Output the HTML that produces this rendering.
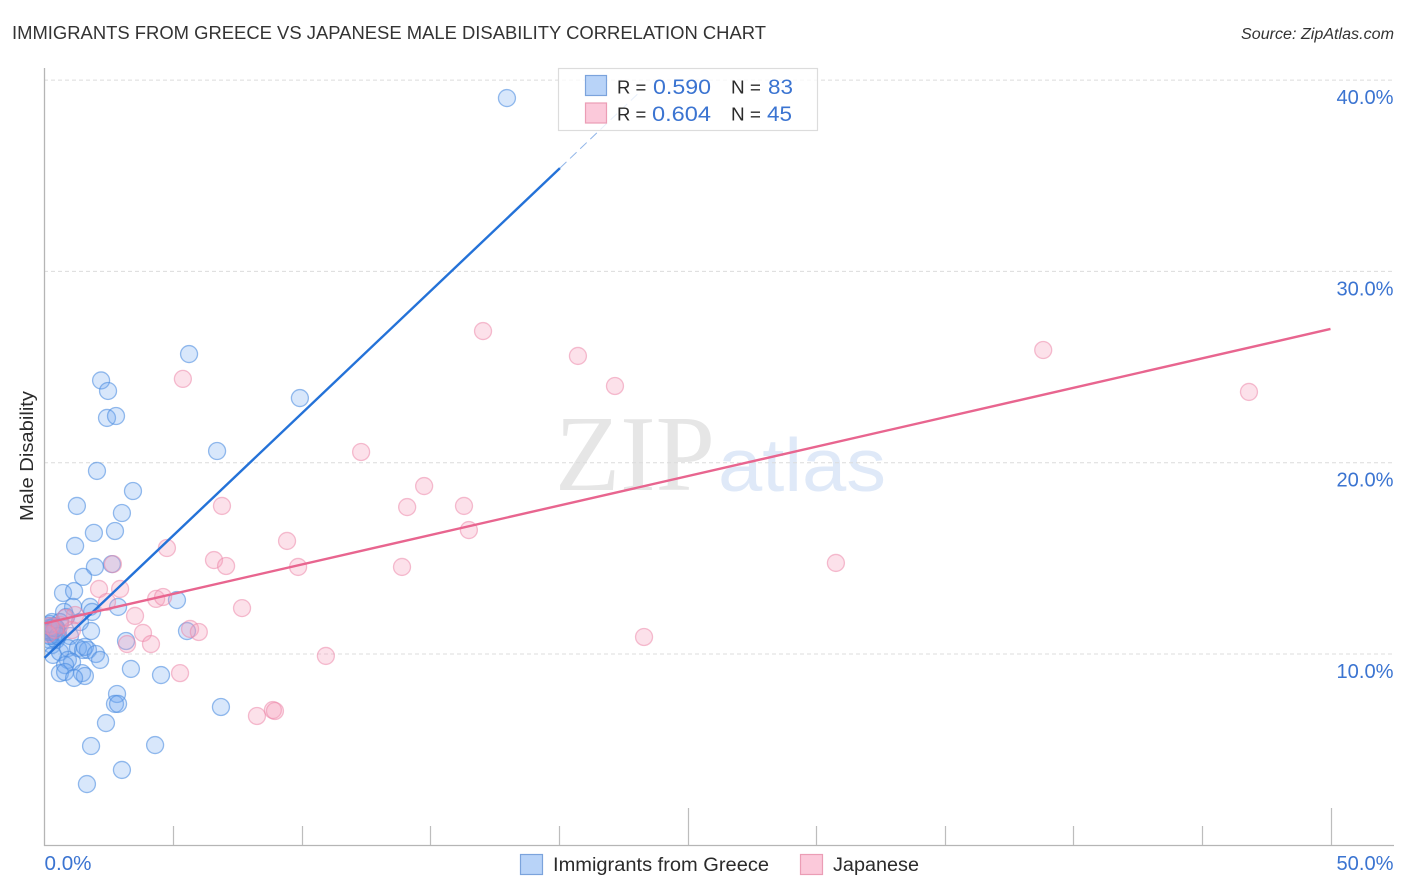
<!DOCTYPE html>
<html lang="en">
<head>
<meta charset="utf-8">
<title>Immigrants from Greece vs Japanese Male Disability Correlation Chart</title>
<style>
html,body{margin:0;padding:0;background:#fff;width:1406px;height:892px;overflow:hidden}
svg{display:block}
text{font-family:"Liberation Sans",sans-serif}
.dark{fill:#2b2b2b}
.blue{fill:#3b74d1}
</style>
</head>
<body>
<svg id="chart" xmlns="http://www.w3.org/2000/svg" width="1406" height="892" viewBox="0 0 1406 892">
  <defs>
    <clipPath id="plot-clip"><rect x="45" y="60" width="1349" height="785"/></clipPath>
  </defs>
  <rect x="0" y="0" width="1406" height="892" fill="#fff"/>
  <text x="12" y="39" font-size="18.5" textLength="754" lengthAdjust="spacingAndGlyphs" fill="#333">IMMIGRANTS FROM GREECE VS JAPANESE MALE DISABILITY CORRELATION CHART</text>
  <text x="1241" y="39" font-size="15.5" font-style="italic" textLength="153" lengthAdjust="spacingAndGlyphs" fill="#333">Source: ZipAtlas.com</text>
  <g>
    <text x="555" y="490" font-size="108" textLength="160" lengthAdjust="spacingAndGlyphs" fill="#e6e6e6" style="font-family:'Liberation Serif',serif">ZIP</text>
    <text x="718" y="491" font-size="75" textLength="168" lengthAdjust="spacingAndGlyphs" fill="#dfe9f8">atlas</text>
  </g>
  <g id="grid"></g>
  <g id="axes">
    <line x1="44.5" y1="68" x2="44.5" y2="846" stroke="#b5b5b5" stroke-width="1.3"/>
    <line x1="44" y1="845.5" x2="1394" y2="845.5" stroke="#b5b5b5" stroke-width="1.3"/>
  </g>
  <g id="xticks"></g>
  <g id="ylabels"></g>
  <g id="xlabels"></g>
  <text transform="translate(33,456) rotate(-90)" font-size="18" text-anchor="middle" textLength="130" lengthAdjust="spacingAndGlyphs" class="dark">Male Disability</text>
  <g id="points" clip-path="url(#plot-clip)"></g>
  <g id="trends"></g>

  <g>
    <rect x="558.5" y="68.5" width="259" height="62" fill="#fff" fill-opacity="0.78" stroke="#dcdcdc" stroke-width="1.2"/>
    <rect x="585.5" y="75.5" width="21" height="20" fill="#b8d3f8" stroke="#7ba3dc" stroke-width="1.2"/>
    <rect x="585.5" y="103" width="21" height="20" fill="#fbc9da" stroke="#eb9db5" stroke-width="1.2"/>
    <text x="617" y="93.5" font-size="18.5" class="dark">R =</text>
    <text x="653" y="94" font-size="21.5" textLength="58" lengthAdjust="spacingAndGlyphs" class="blue">0.590</text>
    <text x="731" y="93.5" font-size="18.5" textLength="30" lengthAdjust="spacingAndGlyphs" class="dark">N =</text>
    <text x="768" y="94" font-size="21.5" textLength="25" lengthAdjust="spacingAndGlyphs" class="blue">83</text>
    <text x="617" y="120.5" font-size="18.5" class="dark">R =</text>
    <text x="652" y="121" font-size="21.5" textLength="59" lengthAdjust="spacingAndGlyphs" class="blue">0.604</text>
    <text x="731" y="120.5" font-size="18.5" textLength="30" lengthAdjust="spacingAndGlyphs" class="dark">N =</text>
    <text x="767" y="121" font-size="21.5" textLength="25" lengthAdjust="spacingAndGlyphs" class="blue">45</text>
  </g>

  <g>
    <rect x="520.5" y="854.5" width="22" height="20" fill="#b8d3f8" stroke="#7ba3dc" stroke-width="1.2"/>
    <text x="553" y="871" font-size="19" textLength="216" lengthAdjust="spacingAndGlyphs" class="dark">Immigrants from Greece</text>
    <rect x="800.5" y="854.5" width="22" height="20" fill="#fbc9da" stroke="#eb9db5" stroke-width="1.2"/>
    <text x="833" y="871" font-size="19" textLength="86" lengthAdjust="spacingAndGlyphs" class="dark">Japanese</text>
  </g>
</svg>
<script>
const greeceX = [17.98,5.62,2.2,2.47,2.43,2.78,9.93,6.71,2.04,3.44,1.26,3.01,1.92,2.74,1.19,2.62,1.96,1.5,0.72,1.15,5.15,2.86,1.77,1.11,1.85,0.76,0.84,1.38,1.81,5.54,3.17,
  0.29,0.45,0.21,0.37,0.21,0.52,0.14,0.29,0.45,0.99,0.6,
  0.33,0.6,0.91,1.3,1.5,1.69,1.57,2.0,2.16,0.91,1.07,0.8,0.6,0.8,1.46,1.57,1.15,3.36,4.53,2.82,2.74,2.86,6.86,2.39,1.81,4.3,3.01,1.65,
  0.21,0.29,0.14,0.37,0.06,0.45,0.21,0.37,0.14,0.29,0.45,0.21,0.52];
const greeceY = [39.06,25.68,24.3,23.75,22.34,22.44,23.38,20.61,19.57,18.52,17.74,17.37,16.33,16.43,15.65,14.7,14.55,14.03,13.19,13.29,12.82,12.46,12.46,12.46,12.2,12.2,11.93,11.67,11.2,11.2,10.68,
  11.67,11.36,11.15,10.94,10.73,11.15,11.36,10.47,10.73,10.94,11.67,
  9.95,10.1,10.31,10.31,10.21,10.21,10.37,10.0,9.69,9.69,9.58,9.42,9.0,9.06,9.0,8.85,8.75,9.22,8.9,7.91,7.39,7.39,7.23,6.39,5.19,5.24,3.94,3.2,
  11.36,11.15,11.15,11.46,11.25,11.05,10.94,11.25,11.46,11.36,11.36,11.57,10.94];
const japaneseX = [17.05,20.74,22.18,38.83,46.83,5.38,12.31,14.76,14.1,16.31,16.5,6.9,9.43,4.76,6.59,7.06,9.86,13.9,30.77,2.66,2.12,2.94,4.34,4.61,2.43,7.68,3.52,5.66,6.0,3.83,3.21,4.14,23.31,10.94,5.27,8.26,8.88,8.96,
  0.21,0.41,0.6,0.14,1.19,0.8,1.07];
const japaneseY = [26.88,25.58,24.01,25.89,23.7,24.38,20.56,18.78,17.68,17.74,16.48,17.74,15.91,15.54,14.91,14.6,14.55,14.55,14.76,14.7,13.4,13.4,12.88,12.98,12.72,12.4,11.99,11.31,11.15,11.1,10.52,10.52,10.89,9.9,9.0,6.76,7.07,7.02,
  11.46,11.25,11.52,11.05,12.04,11.88,11.25];
const greeceTrendX = [0,20.04];
const greeceTrendY = [9.8,35.4];
const greeceDashX = [20.04,23.2];
const greeceDashY = [35.4,39.45];
const japaneseTrendX = [0,50];
const japaneseTrendY = [11.6,26.99];
const yTickValues = [10,20,30,40];
const yTickLabels = ["10.0%","20.0%","30.0%","40.0%"];
const xTickValues = [0,5,10,15,20,25,30,35,40,45,50];
const xMajorTicks = [25,50];
const xEndValues = [0,50];
const xEndLabels = ["0.0%","50.0%"];

const NS = 'http://www.w3.org/2000/svg';
function xScale(v){ return 44.5 + v * 25.72; }
function yScale(v){ return 654 - (v - 10) * 19.13; }
function make(tag, attrs, parent){
  const el = document.createElementNS(NS, tag);
  for (const k in attrs) el.setAttribute(k, attrs[k]);
  parent.appendChild(el);
  return el;
}
const gridG = document.getElementById('grid');
const tickG = document.getElementById('xticks');
const yLabG = document.getElementById('ylabels');
const xLabG = document.getElementById('xlabels');
const ptG = document.getElementById('points');
const trendG = document.getElementById('trends');

yTickValues.forEach(function(v, i){
  const y = yScale(v);
  const g = make('line', {x1:44, y1:y, x2:1394, y2:y, stroke:'#dcdcdc', 'stroke-width':1, 'stroke-dasharray':'4 3'}, gridG);
  
  
  const t = make('text', {x:1393.5, y:y + 24, 'font-size':20.5, 'text-anchor':'end', 'class':'blue', textLength:57, lengthAdjust:'spacingAndGlyphs'}, yLabG);
  t.textContent = yTickLabels[i];
  
  
});

xTickValues.forEach(function(v){
  if (v === 0) return;
  const x = Math.round(xScale(v)) + 0.5;
  const top = xMajorTicks.indexOf(v) >= 0 ? 808 : 826;
  const l = make('line', {x1:x, y1:top, x2:x, y2:845, stroke:'#bdbdbd', 'stroke-width':1.2}, tickG);
  
  
});

xEndValues.forEach(function(v, i){
  const attrs = i === 0
    ? {x:xScale(v), y:870, 'font-size':20.5, 'class':'blue', textLength:47, lengthAdjust:'spacingAndGlyphs'}
    : {x:1393.5, y:870, 'font-size':20.5, 'text-anchor':'end', 'class':'blue', textLength:57, lengthAdjust:'spacingAndGlyphs'};
  const t = make('text', attrs, xLabG);
  t.textContent = xEndLabels[i];
  
  
});

greeceX.forEach(function(v, i){
  const c = make('circle', {cx:xScale(v), cy:yScale(greeceY[i]), r:8.5, fill:'#6ea6f0', 'fill-opacity':0.27, stroke:'#4a8ce0', 'stroke-opacity':0.58, 'stroke-width':1.3}, ptG);
  
  
});
japaneseX.forEach(function(v, i){
  const c = make('circle', {cx:xScale(v), cy:yScale(japaneseY[i]), r:8.5, fill:'#f59ab8', 'fill-opacity':0.3, stroke:'#ec84a6', 'stroke-opacity':0.52, 'stroke-width':1.3}, ptG);
  
  
});

const blueSolid = make('line', {x1:xScale(greeceTrendX[0]), y1:yScale(greeceTrendY[0]), x2:xScale(greeceTrendX[1]), y2:yScale(greeceTrendY[1]), stroke:'#2472d8', 'stroke-width':2.4}, trendG);


const blueDash = make('line', {x1:xScale(greeceDashX[0]), y1:yScale(greeceDashY[0]), x2:xScale(greeceDashX[1]), y2:yScale(greeceDashY[1]), stroke:'#8fb4e8', 'stroke-width':1, 'stroke-dasharray':'9 5'}, trendG);


const pinkSolid = make('line', {x1:xScale(japaneseTrendX[0]), y1:yScale(japaneseTrendY[0]), x2:xScale(japaneseTrendX[1]), y2:yScale(japaneseTrendY[1]), stroke:'#e8658f', 'stroke-width':2.4}, trendG);


</script>
</body>
</html>
